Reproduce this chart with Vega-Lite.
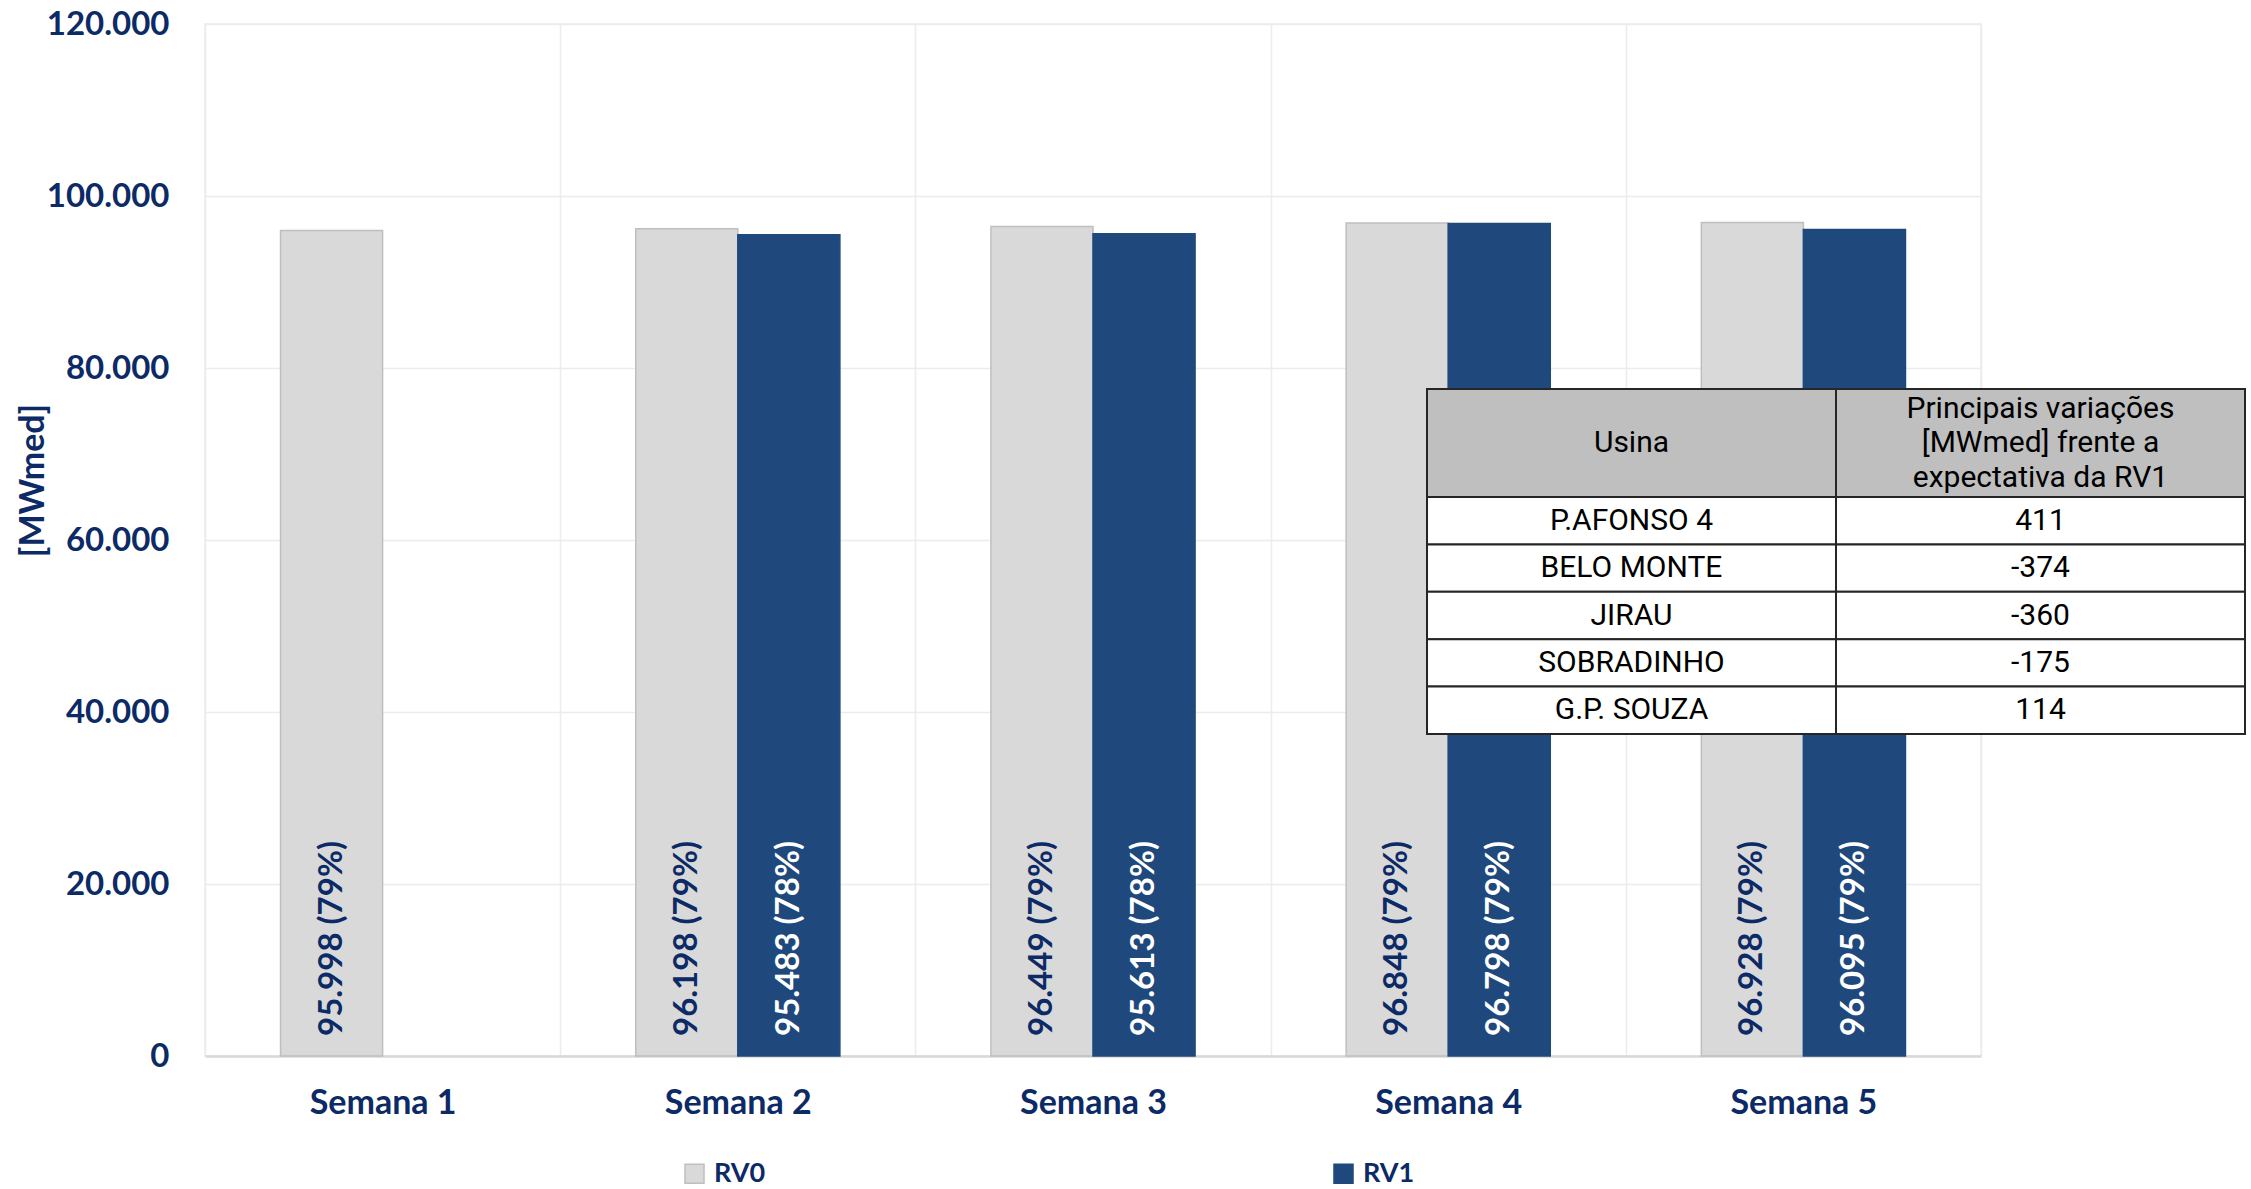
{
  "$schema": "https://vega.github.io/schema/vega-lite/v6.json",
  "width": 1776,
  "height": 1032,
  "autosize": {"type": "none"},
  "padding": {"left": 205, "top": 24, "right": 270, "bottom": 133},
  "config": {
    "view": {"stroke": "#ececec", "strokeWidth": 1.5},
    "font": "Lato"
  },
  "datasets": {
    "bars": [
      {"semana": "Semana 1", "serie": "RV0", "valor": 95998, "rotulo": "95.998 (79%)"},
      {"semana": "Semana 2", "serie": "RV0", "valor": 96198, "rotulo": "96.198 (79%)"},
      {"semana": "Semana 2", "serie": "RV1", "valor": 95483, "rotulo": "95.483 (78%)"},
      {"semana": "Semana 3", "serie": "RV0", "valor": 96449, "rotulo": "96.449 (79%)"},
      {"semana": "Semana 3", "serie": "RV1", "valor": 95613, "rotulo": "95.613 (78%)"},
      {"semana": "Semana 4", "serie": "RV0", "valor": 96848, "rotulo": "96.848 (79%)"},
      {"semana": "Semana 4", "serie": "RV1", "valor": 96798, "rotulo": "96.798 (79%)"},
      {"semana": "Semana 5", "serie": "RV0", "valor": 96928, "rotulo": "96.928 (79%)"},
      {"semana": "Semana 5", "serie": "RV1", "valor": 96095, "rotulo": "96.095 (79%)"}
    ],
    "header": [
      {"h": "header", "col": "Usina", "texto": ["Usina"]},
      {"h": "header", "col": "Var", "texto": ["Principais variações", "[MWmed] frente a", "expectativa da RV1"]}
    ],
    "tabela": [
      {"linha": "P.AFONSO 4", "col": "Usina", "texto": "P.AFONSO 4"},
      {"linha": "P.AFONSO 4", "col": "Var", "texto": "411"},
      {"linha": "BELO MONTE", "col": "Usina", "texto": "BELO MONTE"},
      {"linha": "BELO MONTE", "col": "Var", "texto": "-374"},
      {"linha": "JIRAU", "col": "Usina", "texto": "JIRAU"},
      {"linha": "JIRAU", "col": "Var", "texto": "-360"},
      {"linha": "SOBRADINHO", "col": "Usina", "texto": "SOBRADINHO"},
      {"linha": "SOBRADINHO", "col": "Var", "texto": "-175"},
      {"linha": "G.P. SOUZA", "col": "Usina", "texto": "G.P. SOUZA"},
      {"linha": "G.P. SOUZA", "col": "Var", "texto": "114"}
    ]
  },
  "layer": [
    {
      "data": {"name": "bars"},
      "encoding": {
        "x": {
          "field": "semana",
          "type": "nominal",
          "sort": null,
          "scale": {"paddingInner": 0, "paddingOuter": 0},
          "axis": {
            "title": null,
            "labelAngle": 0,
            "labelFont": "Lato",
            "labelFontSize": 34,
            "labelFontWeight": "bold",
            "labelColor": "#0c2a66",
            "labelPadding": 30,
            "ticks": false,
            "domainColor": "#d9d9d9",
            "domainWidth": 2.5,
            "grid": true,
            "tickBand": "extent",
            "gridColor": "#ececec",
            "gridWidth": 1.5
          }
        },
        "xOffset": {
          "field": "serie",
          "type": "nominal",
          "scale": {"domain": ["RV0", "RV1"], "paddingInner": 0, "paddingOuter": 0.74}
        }
      },
      "layer": [
        {
          "mark": {"type": "bar", "strokeWidth": 1.5},
          "encoding": {
            "y": {
              "field": "valor",
              "type": "quantitative",
              "scale": {"domain": [0, 120000]},
              "axis": {
                "title": "[MWmed]",
                "values": [0, 20000, 40000, 60000, 80000, 100000, 120000],
                "labelExpr": "replace(format(datum.value, ','), ',', '.')",
                "labelFont": "Lato",
                "labelFontSize": 33,
                "labelFontWeight": "bold",
                "labelColor": "#0c2a66",
                "labelPadding": 36,
                "ticks": false,
                "domain": false,
                "grid": true,
                "gridColor": "#ececec",
                "gridWidth": 1.5,
                "titleFont": "Lato",
                "titleFontSize": 34,
                "titleFontWeight": "bold",
                "titleColor": "#0c2a66",
                "titleX": -172,
                "titleY": 456,
                "titleAngle": 270,
                "titleAlign": "center",
                "titleBaseline": "middle"
              }
            },
            "color": {
              "field": "serie",
              "type": "nominal",
              "scale": {"domain": ["RV0", "RV1"], "range": ["#d9d9d9", "#1f497d"]},
              "legend": {
                "title": null,
                "orient": "none",
                "legendX": 476,
                "legendY": 1136,
                "direction": "horizontal",
                "padding": 0,
                "symbolType": "square",
                "symbolSize": 361,
                "symbolStrokeWidth": 1.5,
                "labelFont": "Lato",
                "labelFontSize": 27,
                "labelFontWeight": "bold",
                "labelColor": "#0c2a66",
                "labelOffset": 6,
                "columnPadding": 564
              }
            },
            "stroke": {
              "field": "serie",
              "type": "nominal",
              "scale": {"domain": ["RV0", "RV1"], "range": ["#bfbfbf", "#1f497d"]},
              "legend": {
                "title": null,
                "orient": "none",
                "legendX": 476,
                "legendY": 1136,
                "direction": "horizontal",
                "padding": 0,
                "symbolType": "square",
                "symbolSize": 361,
                "symbolStrokeWidth": 1.5,
                "labelFont": "Lato",
                "labelFontSize": 27,
                "labelFontWeight": "bold",
                "labelColor": "#0c2a66",
                "labelOffset": 6,
                "columnPadding": 564
              }
            }
          }
        },
        {
          "mark": {
            "type": "text",
            "angle": 270,
            "align": "left",
            "baseline": "middle",
            "dx": 20,
            "font": "Lato",
            "fontSize": 33,
            "fontWeight": "bold"
          },
          "encoding": {
            "y": {"datum": 0, "type": "quantitative"},
            "text": {"field": "rotulo", "type": "nominal"},
            "color": {
              "condition": {"test": "datum.serie === 'RV1'", "value": "#ffffff"},
              "value": "#0c2a66"
            }
          }
        }
      ]
    },
    {
      "data": {"name": "header"},
      "encoding": {
        "x": {
          "field": "col",
          "type": "nominal",
          "sort": null,
          "scale": {"domain": ["Usina", "Var"], "range": [1222, 2040], "paddingInner": 0, "paddingOuter": 0},
          "axis": null
        },
        "y": {
          "field": "h",
          "type": "nominal",
          "scale": {"domain": ["header"], "range": [365, 473], "paddingInner": 0, "paddingOuter": 0},
          "axis": null
        }
      },
      "layer": [
        {"mark": {"type": "rect", "fill": "#bfbfbf", "stroke": "#262626", "strokeWidth": 2}},
        {
          "transform": [{"filter": "datum.col === 'Usina'"}],
          "mark": {"type": "text", "font": "Roboto", "fontSize": 30, "color": "#000000", "baseline": "middle"},
          "encoding": {"text": {"field": "texto", "type": "nominal"}}
        },
        {
          "transform": [{"filter": "datum.col === 'Var'"}],
          "mark": {"type": "text", "font": "Roboto", "fontSize": 30, "color": "#000000", "lineHeight": 34.5, "baseline": "middle", "dy": -34.5},
          "encoding": {"text": {"field": "texto", "type": "nominal"}}
        }
      ]
    },
    {
      "data": {"name": "tabela"},
      "encoding": {
        "x": {
          "field": "col",
          "type": "nominal",
          "sort": null,
          "scale": {"domain": ["Usina", "Var"], "range": [1222, 2040], "paddingInner": 0, "paddingOuter": 0},
          "axis": null
        },
        "y": {
          "field": "linha",
          "type": "nominal",
          "sort": null,
          "scale": {"domain": ["P.AFONSO 4", "BELO MONTE", "JIRAU", "SOBRADINHO", "G.P. SOUZA"], "range": [473, 710], "paddingInner": 0, "paddingOuter": 0},
          "axis": null
        }
      },
      "layer": [
        {"mark": {"type": "rect", "fill": "#ffffff", "stroke": "#262626", "strokeWidth": 2}},
        {
          "mark": {"type": "text", "font": "Roboto", "fontSize": 30, "color": "#000000", "baseline": "middle"},
          "encoding": {"text": {"field": "texto", "type": "nominal"}}
        }
      ]
    }
  ],
  "resolve": {"scale": {"x": "independent", "y": "independent"}}
}
